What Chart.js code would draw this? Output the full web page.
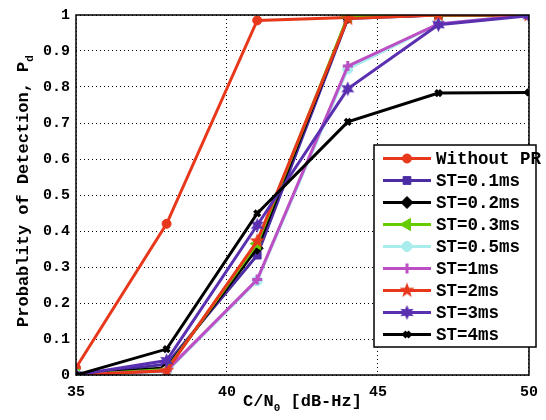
<!DOCTYPE html>
<html lang="en">
<head>
    <meta charset="UTF-8">
    <title>Probability of Detection vs C/N0</title>
    <script src="https://cdn.jsdelivr.net/npm/chart.js"></script>
    <style>
        body {
            margin: 0;
            background-color: white;
        }
        canvas {
            display: block;
        }
    </style>
</head>
<body>
    <canvas id="pdChart" width="546" height="420"></canvas>

    <script>
        // Data
        const cn0 = [35, 38, 41, 44, 47, 50];
        const withoutPR = [0.02, 0.42, 0.985, 0.993, 1, 1];
        const st01 = [0, 0.03, 0.333, 0.99, 1, 1];
        const st02 = [0, 0.02, 0.352, 0.993, 1, 1];
        const st03 = [0, 0.015, 0.365, 0.995, 1, 1];
        const st05 = [0, 0.01, 0.262, 0.85, 0.975, 1];
        const st1 = [0, 0.012, 0.265, 0.858, 0.975, 1];
        const st2 = [0, 0.012, 0.372, 0.99, 1, 1];
        const st3 = [0, 0.04, 0.416, 0.795, 0.973, 0.998];
        const st4 = [0, 0.072, 0.449, 0.703, 0.783, 0.785];

        const xTicks = [35, 40, 45, 50];
        const seriesLabels = ['Without PR', 'ST=0.1ms', 'ST=0.2ms', 'ST=0.3ms', 'ST=0.5ms',
                              'ST=1ms', 'ST=2ms', 'ST=3ms', 'ST=4ms'];

        const FONT = '"Liberation Mono", "DejaVu Sans Mono", monospace';

        // filled star markers (5 point and 6 point)
        function makeStar(n, outer, inner, color) {
            const c = document.createElement('canvas');
            const s = Math.ceil(outer * 2 + 2);
            c.width = s; c.height = s;
            const g = c.getContext('2d');
            g.translate(s / 2, s / 2);
            g.beginPath();
            for (let i = 0; i < n * 2; i++) {
                const r = i % 2 === 0 ? outer : inner;
                const a = -Math.PI / 2 + i * Math.PI / n;
                g.lineTo(r * Math.cos(a), r * Math.sin(a));
            }
            g.closePath();
            g.fillStyle = color;
            g.fill();
            return c;
        }

        const red = '#e8381c';
        const purple = '#4b2ca3';
        const purple2 = '#5a2fb0';
        const green = '#66cc00';
        const cyan = '#a8ecec';
        const magenta = '#bb4fc3';

        const star5 = makeStar(5, 8, 3.3, red);
        const star6 = makeStar(6, 7.5, 3.8, purple2);

        function pts(vals) {
            return vals.map((v, i) => ({ x: cn0[i], y: v }));
        }

        const specs = [
            { data: withoutPR, color: red, style: 'circle', radius: 4.5 },
            { data: st01, color: purple, style: 'rect', radius: 5.5 },
            { data: st02, color: '#000', style: 'rectRot', radius: 6 },
            { data: st03, color: green, style: 'triangle', radius: 7, rotation: -90 },
            { data: st05, color: cyan, style: 'circle', radius: 5 },
            { data: st1, color: magenta, style: 'cross', radius: 5, bw: 3 },
            { data: st2, color: red, style: star5, radius: 8 },
            { data: st3, color: purple2, style: star6, radius: 8 },
            { data: st4, color: '#000', style: 'crossRot', radius: 4, bw: 3.5 }
        ];

        const datasets = specs.map((s, i) => ({
            label: seriesLabels[i],
            data: pts(s.data),
            borderColor: s.color,
            backgroundColor: s.color,
            borderWidth: 3,
            pointStyle: s.style,
            pointRadius: s.radius,
            pointRotation: s.rotation || 0,
            pointBorderWidth: s.bw || 1,
            pointBackgroundColor: s.color,
            pointBorderColor: s.color,
            tension: 0,
            order: -i
        }));

        const frameAndText = {
            id: 'frameAndText',
            afterDraw(chart) {
                const ctx = chart.ctx;
                const a = chart.chartArea;
                ctx.save();
                // axes box
                ctx.strokeStyle = '#000';
                ctx.lineWidth = 1.5;
                ctx.strokeRect(a.left, a.top, a.right - a.left, a.bottom - a.top);

                // legend inside plot
                const lx = 374, ly = 145, lw = 162, lh = 202;
                ctx.fillStyle = '#fff';
                ctx.fillRect(lx, ly, lw, lh);
                ctx.strokeRect(lx, ly, lw, lh);
                ctx.font = 'bold 17.5px ' + FONT;
                ctx.textBaseline = 'middle';
                ctx.textAlign = 'left';
                specs.forEach((s, i) => {
                    const y = 158.5 + i * 22;
                    ctx.strokeStyle = s.color;
                    ctx.lineWidth = 3;
                    ctx.beginPath();
                    ctx.moveTo(383, y);
                    ctx.lineTo(431, y);
                    ctx.stroke();
                    ctx.fillStyle = s.color;
                    ctx.lineWidth = s.bw || 1;
                    Chart.helpers.drawPoint(ctx, {
                        pointStyle: s.style,
                        radius: s.radius,
                        rotation: s.rotation || 0,
                        borderWidth: s.bw || 1
                    }, 407, y);
                    ctx.fillStyle = '#000';
                    ctx.fillText(seriesLabels[i], 436, y + 1);
                });

                // x axis title with subscript
                ctx.fillStyle = '#000';
                ctx.textBaseline = 'alphabetic';
                const big = 'bold 17px ' + FONT;
                const small = 'bold 11px ' + FONT;
                const parts = [['C/N', big, 0], ['0', small, 5], [' [dB-Hz]', big, 0]];
                let total = 0;
                parts.forEach(p => { ctx.font = p[1]; total += ctx.measureText(p[0]).width; });
                let x = (a.left + a.right) / 2 - total / 2;
                parts.forEach(p => {
                    ctx.font = p[1];
                    ctx.fillText(p[0], x, 406 + p[2]);
                    x += ctx.measureText(p[0]).width;
                });

                // y axis title with subscript
                ctx.translate(28, 191);
                ctx.rotate(-Math.PI / 2);
                const yparts = [['Probablity of Detection, P', big, 0], ['d', small, 5]];
                total = 0;
                yparts.forEach(p => { ctx.font = p[1]; total += ctx.measureText(p[0]).width; });
                x = -total / 2;
                yparts.forEach(p => {
                    ctx.font = p[1];
                    ctx.fillText(p[0], x, p[2]);
                    x += ctx.measureText(p[0]).width;
                });
                ctx.restore();
            }
        };

        new Chart(document.getElementById('pdChart'), {
            type: 'line',
            data: { datasets: datasets },
            options: {
                responsive: false,
                animation: false,
                devicePixelRatio: 1,
                layout: { padding: { top: 14, right: 15, left: 0, bottom: 0 } },
                plugins: {
                    legend: { display: false },
                    tooltip: { enabled: false }
                },
                scales: {
                    x: {
                        type: 'linear',
                        min: 35,
                        max: 50,
                        afterFit: s => { s.height = 45; },
                        afterBuildTicks: s => { s.ticks = xTicks.map(v => ({ value: v })); },
                        grid: { color: '#000', lineWidth: 1, drawTicks: false },
                        border: { display: false, dash: [1, 3] },
                        ticks: {
                            padding: 8,
                            color: '#000',
                            font: { family: FONT, size: 15, weight: 'bold' }
                        }
                    },
                    y: {
                        min: 0,
                        max: 1,
                        afterFit: s => { s.width = 76; },
                        grid: { color: '#000', lineWidth: 1, drawTicks: false },
                        border: { display: false, dash: [1, 3] },
                        ticks: {
                            stepSize: 0.1,
                            padding: 6,
                            color: '#000',
                            font: { family: FONT, size: 15, weight: 'bold' },
                            callback: v => Math.round(v * 10) / 10
                        }
                    }
                }
            },
            plugins: [frameAndText]
        });
    </script>
</body>
</html>
